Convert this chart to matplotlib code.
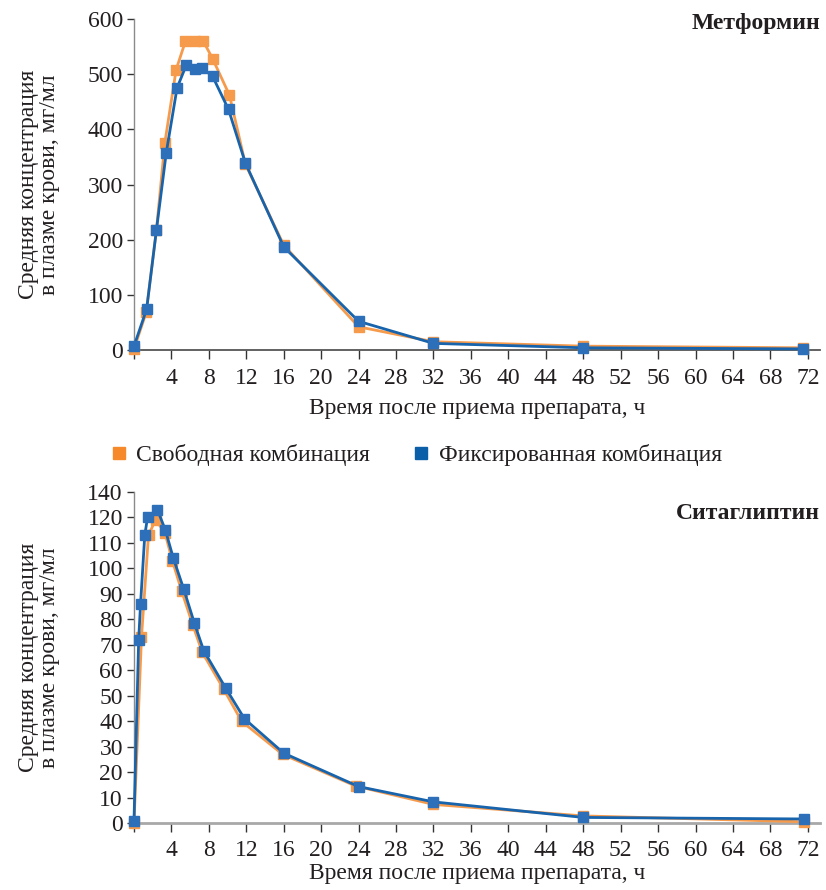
import matplotlib

matplotlib.use("Agg")
import matplotlib.pyplot as plt
from matplotlib.lines import Line2D

plt.rcParams["font.family"] = ["Liberation Serif", "DejaVu Serif"]

# --- data ---
# Metformin (top panel)
t_met_free = [0, 1.3, 2.4, 3.3, 4.5, 5.5, 6.5, 7.4, 8.4, 10.2, 11.9, 16, 24, 32, 48, 71.5]
met_free = [2, 68, 218, 376, 508, 560, 560, 560, 528, 462, 337, 190, 42, 15, 7, 4]
t_met_fix = [0, 1.35, 2.4, 3.45, 4.6, 5.6, 6.5, 7.3, 8.4, 10.1, 11.9, 16, 24, 32, 48, 71.5]
met_fix = [7, 74, 218, 358, 475, 517, 509, 511, 496, 436, 339, 187, 52, 12, 4, 2]

# Sitagliptin (bottom panel)
t_sit_free = [0, 0.8, 1.55, 2.3, 3.3, 4.1, 5.1, 6.3, 7.3, 9.6, 11.5, 15.9, 23.7, 32, 48, 71.6]
sit_free = [0, 73, 113, 119, 114, 103, 91, 77.6, 67, 52.5, 40, 27, 14.6, 7.4, 2.9, 0.6]
t_sit_fix = [0, 0.5, 0.7, 1.15, 1.45, 2.5, 3.35, 4.2, 5.3, 6.45, 7.45, 9.8, 11.8, 16, 24, 32, 48, 71.6]
sit_fix = [1, 72, 86, 113, 120, 123, 115, 104, 92, 78.5, 67.7, 53, 41, 27.5, 14.4, 8.4, 2.3, 1.7]

x_ticks = list(range(0, 73, 4))
x_labels = [""] + [str(v) for v in x_ticks[1:]]
met_yticks = [0, 100, 200, 300, 400, 500, 600]
sit_yticks = [0, 10, 20, 30, 40, 50, 60, 70, 80, 90, 100, 110, 120, 130]
sit_ylabels = ["0", "10", "20", "30", "40", "50", "60", "70", "80", "90",
               "100", "110", "120", "140"]  # the original skips 130

series_labels = ["Свободная комбинация", "Фиксированная комбинация"]
titles = ["Метформин", "Ситаглиптин"]
xlabel = "Время после приема препарата, ч"
ylabel = "Средняя концентрация\nв плазме крови, мг/мл"

ORANGE = "#F69A4C"
BLUE = "#1763AC"
ORANGE_LEG = "#F68A2B"
BLUE_LEG = "#0B5EA8"
TXT = "#231F20"
FS = 17

fig = plt.figure(figsize=(8.26, 8.90), dpi=100)
ax1 = fig.add_axes([134 / 826, 1 - 350 / 890, 686 / 826, 331 / 890])
ax2 = fig.add_axes([134 / 826, 1 - 823.3 / 890, 686 / 826, 331.5 / 890])


def style(ax, yticks, ylabels, ymax, title, title_y, xspine_color, xspine_w, xpad, lpad):
    ax.set_xlim(0, 73.3)
    ax.set_ylim(0, ymax)
    ax.set_xticks(x_ticks)
    ax.set_xticklabels(x_labels)
    ax.set_yticks(yticks)
    ax.set_yticklabels(ylabels)
    for s in ("top", "right"):
        ax.spines[s].set_visible(False)
    ax.spines["left"].set_color("#8a8a8a")
    ax.spines["left"].set_linewidth(1.0)
    ax.spines["bottom"].set_color(xspine_color)
    ax.spines["bottom"].set_linewidth(xspine_w)
    ax.tick_params(axis="x", direction="out", length=6.2, width=1.0,
                   color="#333333", labelsize=FS, labelcolor=TXT, pad=xpad)
    ax.tick_params(axis="y", direction="out", length=5, width=1.0,
                   color="#333333", labelsize=FS, labelcolor=TXT, pad=3)
    ax.set_xlabel(xlabel, fontsize=FS, color=TXT, labelpad=lpad)
    ax.set_ylabel(ylabel, fontsize=FS, color=TXT, linespacing=1.0)
    ax.yaxis.set_label_coords(-0.108, 0.5)
    ax.text(1.0, title_y, title, transform=ax.transAxes, ha="right", va="center",
            fontsize=FS, fontweight="bold", color=TXT)


style(ax1, met_yticks, [str(v) for v in met_yticks], 600, titles[0], 0.985,
      "#555555", 1.3, 7, 6)
style(ax2, sit_yticks, sit_ylabels, 130, titles[1], 0.936,
      "#a8a8a8", 2.0, 6, 1)

for ax, tf, yf, tx, yx in [(ax1, t_met_free, met_free, t_met_fix, met_fix),
                           (ax2, t_sit_free, sit_free, t_sit_fix, sit_fix)]:
    ax.plot(tf, yf, color=ORANGE, lw=2.0, marker="s", ms=7, mec=ORANGE,
            clip_on=False, zorder=3)
    ax.plot(tx, yx, color=BLUE, lw=2.0, marker="s", ms=7, mfc="#2D6FB8",
            mec="#2D6FB8", clip_on=False, zorder=4)

handles = [Line2D([], [], ls="none", marker="s", ms=9, mfc=ORANGE_LEG, mec=ORANGE_LEG),
           Line2D([], [], ls="none", marker="s", ms=9, mfc=BLUE_LEG, mec=BLUE_LEG)]
fig.legend(handles, series_labels, loc="center left", bbox_to_anchor=(89 / 826, 1 - 455 / 890),
           ncol=2, frameon=False, fontsize=FS, handlelength=0.7, handletextpad=0.4,
           columnspacing=1.8, labelcolor=TXT)

fig.savefig("out.png", dpi=100)
